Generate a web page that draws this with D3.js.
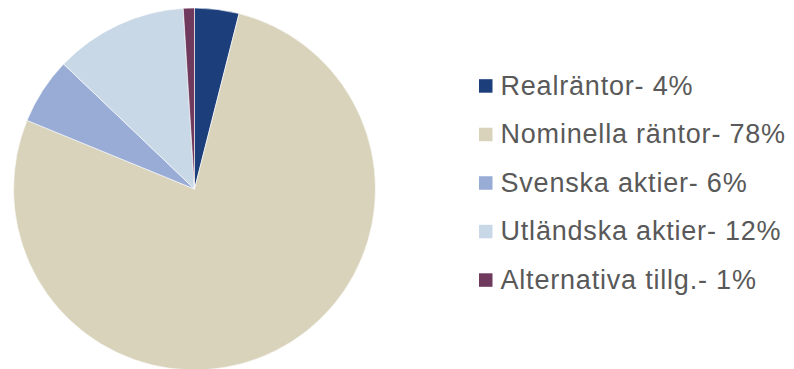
<!DOCTYPE html>
<html>
<head>
<meta charset="utf-8">
<script src="https://cdn.jsdelivr.net/npm/d3@7/dist/d3.min.js"></script>
<style>
  html, body { margin: 0; padding: 0; background: #ffffff; }
  svg { display: block; }
</style>
</head>
<body>
<svg id="chart" width="794" height="369"></svg>
<script>
// Portfolio allocation by asset class (percent)
const categories = ["Realräntor", "Nominella räntor", "Svenska aktier", "Utländska aktier", "Alternativa tillg."];
const values = [4, 78, 6, 12, 1];
const colors = ["#1c3f7c", "#d9d3bc", "#98acd5", "#c9d8e6", "#6f3a5d"];

const svg = d3.select("#chart");
const cx = 194.5, cy = 189, radius = 181;

const pie = d3.pie().sort(null).value(d => d.value);
const arc = d3.arc().innerRadius(0).outerRadius(radius);

const data = categories.map((c, i) => ({ name: c, value: values[i], color: colors[i] }));

svg.append("g")
  .attr("transform", `translate(${cx},${cy})`)
  .selectAll("path")
  .data(pie(data))
  .join("path")
  .attr("d", arc)
  .attr("fill", d => d.data.color)
  .attr("stroke", "#ffffff")
  .attr("stroke-width", 0.6);

// Legend
const legendY = d3.scalePoint().domain(categories).range([85.7, 279.8]);
const legend = svg.append("g");
const items = legend.selectAll("g")
  .data(data)
  .join("g")
  .attr("transform", d => `translate(479,${legendY(d.name)})`);

items.append("rect")
  .attr("x", 0).attr("y", -6.5)
  .attr("width", 13.5).attr("height", 13.5)
  .attr("fill", d => d.color);

items.append("text")
  .attr("x", 21.5).attr("y", 9)
  .attr("font-family", "Liberation Sans, Arial, sans-serif")
  .attr("font-size", 27)
  .attr("letter-spacing", "0.8px")
  .attr("fill", "#595959")
  .text(d => `${d.name}- ${d.value}%`);
</script>
</body>
</html>
